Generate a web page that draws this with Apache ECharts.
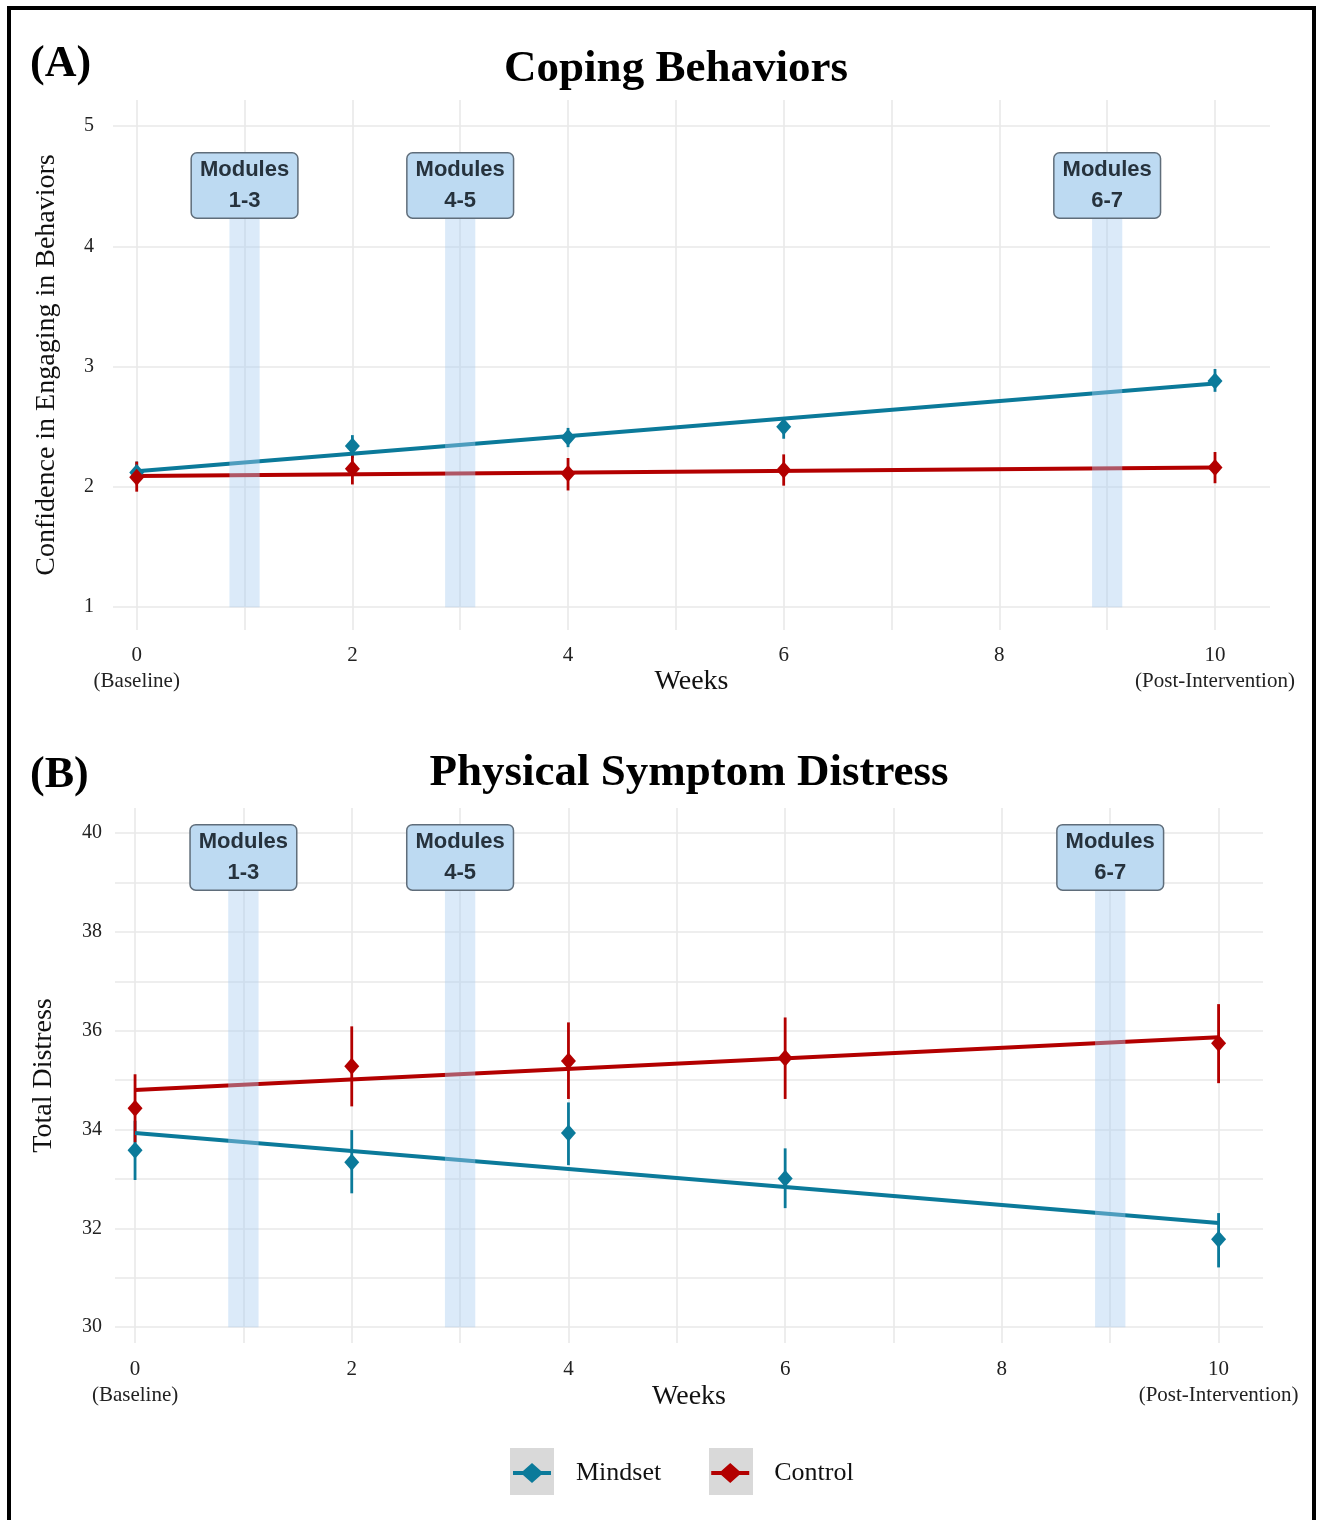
<!DOCTYPE html>
<html>
<head>
<meta charset="utf-8">
<script src="https://cdn.jsdelivr.net/npm/echarts@6/dist/echarts.min.js"></script>
<style>
  html, body { margin: 0; padding: 0; background: #ffffff; }
  #chart { width: 1317px; height: 1520px; }
</style>
</head>
<body>
<div id="chart"></div>
<script>
// weeks where the outcome was measured
const weeks = [0, 2, 4, 6, 10];
const fitWeeks = [0, 10];

// (A) Coping behaviors
const copingMindset = [2.12, 2.34, 2.41, 2.50, 2.88];
const copingMindsetLo = [2.05, 2.24, 2.33, 2.40, 2.79];
const copingMindsetHi = [2.21, 2.43, 2.49, 2.58, 2.98];
const copingControl = [2.08, 2.15, 2.11, 2.14, 2.16];
const copingControlLo = [1.96, 2.02, 1.97, 2.01, 2.03];
const copingControlHi = [2.21, 2.27, 2.24, 2.27, 2.29];
const copingMindsetFit = [2.13, 2.86];
const copingControlFit = [2.09, 2.16];

// (B) Physical symptom distress
const distressMindset = [33.58, 33.34, 33.93, 33.01, 31.78];
const distressMindsetLo = [32.98, 32.71, 33.28, 32.41, 31.21];
const distressMindsetHi = [34.18, 33.99, 34.55, 33.62, 32.31];
const distressControl = [34.43, 35.28, 35.39, 35.45, 35.75];
const distressControlLo = [33.74, 34.47, 34.62, 34.62, 34.94];
const distressControlHi = [35.12, 36.09, 36.17, 36.27, 36.54];
const distressMindsetFit = [33.93, 32.11];
const distressControlFit = [34.80, 35.87];

// module shading
const moduleWeeks = [1, 3, 9];
const moduleNames = ['1-3', '4-5', '6-7'];

// ticks / gridlines
const xTicks = [0, 2, 4, 6, 8, 10];
const xGrid = [0, 1, 2, 3, 4, 5, 6, 7, 8, 9, 10];
const copingTicks = [1, 2, 3, 4, 5];
const distressTicks = [30, 32, 34, 36, 38, 40];
const distressGrid = [30, 31, 32, 33, 34, 35, 36, 37, 38, 39, 40];

const BLUE = '#0b7a9a';
const RED = '#b30000';
const SERIF = "'Liberation Serif', 'Times New Roman', serif";
const SANS = "'Liberation Sans', Arial, sans-serif";
const GRID_COLOR = '#e9e9e9';
const BAND_COLOR = 'rgba(170, 205, 240, 0.42)';
const LEGEND_ICON = 'path://M0,8 L10,8 L19,0 L28,8 L38,8 L38,12 L28,12 L19,20 L10,12 L0,12 Z';

const chart = echarts.init(document.getElementById('chart'));

function xLabel(v) {
  if (v === 0) return '0\n(Baseline)';
  if (v === 10) return '10\n(Post-Intervention)';
  return String(v);
}

function gridLines(idx, xs, ys) {
  return {
    type: 'line',
    xAxisIndex: idx,
    yAxisIndex: idx,
    data: [],
    silent: true,
    z: 1,
    markLine: {
      z: 1,
      silent: true,
      symbol: ['none', 'none'],
      label: { show: false },
      lineStyle: { color: GRID_COLOR, width: 1.6, type: 'solid' },
      data: xs.map((v) => ({ xAxis: v })).concat(ys.map((v) => ({ yAxis: v }))),
    },
  };
}

function bands(idx, yLo, yHi) {
  return {
    type: 'line',
    xAxisIndex: idx,
    yAxisIndex: idx,
    data: [],
    silent: true,
    z: 4,
    markArea: {
      z: 4,
      silent: true,
      itemStyle: { color: BAND_COLOR },
      data: moduleWeeks.map((w) => [
        { xAxis: w - 0.14, yAxis: yLo },
        { xAxis: w + 0.14, yAxis: yHi },
      ]),
    },
  };
}

function moduleBoxes(idx, yPos) {
  return {
    type: 'scatter',
    xAxisIndex: idx,
    yAxisIndex: idx,
    silent: true,
    z: 6,
    symbolSize: 2,
    itemStyle: { color: 'transparent', opacity: 1 },
    data: moduleWeeks.map((w, i) => [w, yPos, moduleNames[i]]),
    label: {
      show: true,
      position: 'inside',
      opacity: 1,
      formatter: (p) => '{t|Modules}\n{t|' + p.data[2] + '}',
      backgroundColor: '#bddaf2',
      borderColor: '#5f6d7a',
      borderWidth: 1.5,
      borderRadius: 5,
      padding: [1, 8],
      rich: {
        t: {
          fontFamily: SANS,
          fontWeight: 'bold',
          fontSize: 22,
          lineHeight: 31,
          color: '#26323d',
          align: 'center',
        },
      },
    },
  };
}

function fitLine(idx, name, vals, color) {
  return {
    type: 'line',
    name: name + ' fit',
    xAxisIndex: idx,
    yAxisIndex: idx,
    z: 3,
    showSymbol: false,
    lineStyle: { color: color, width: 4 },
    data: fitWeeks.map((w, i) => [w, vals[i]]),
  };
}

function errorBars(idx, lo, hi, color) {
  return {
    type: 'custom',
    xAxisIndex: idx,
    yAxisIndex: idx,
    z: 3,
    silent: true,
    data: weeks.map((w, i) => [w, lo[i], hi[i]]),
    encode: { x: 0, y: [1, 2] },
    renderItem: (params, api) => {
      const a = api.coord([api.value(0), api.value(1)]);
      const b = api.coord([api.value(0), api.value(2)]);
      return {
        type: 'rect',
        shape: { x: a[0] - 1.4, y: b[1], width: 2.8, height: a[1] - b[1] },
        style: { fill: color, opacity: 1 },
      };
    },
  };
}

function points(idx, name, vals, color) {
  return {
    type: 'scatter',
    name: name,
    xAxisIndex: idx,
    yAxisIndex: idx,
    z: 3,
    symbol: 'diamond',
    symbolSize: [15, 17],
    itemStyle: { color: color, opacity: 1 },
    data: weeks.map((w, i) => [w, vals[i]]),
  };
}

const axisText = { fontFamily: SERIF, color: '#222' };

function xAxisFor(gi, min, max, margin, gap) {
  return {
    type: 'value',
    gridIndex: gi,
    min: min,
    max: max,
    axisLine: { show: false },
    axisTick: { show: false },
    splitLine: { show: false },
    axisLabel: Object.assign({}, axisText, {
      customValues: xTicks,
      formatter: xLabel,
      fontSize: 21,
      lineHeight: 26,
      margin: margin,
    }),
    name: 'Weeks',
    nameLocation: 'middle',
    nameGap: gap,
    nameMoveOverlap: false,
    nameTextStyle: { fontFamily: SERIF, fontSize: 28, color: '#111' },
  };
}

function yAxisFor(gi, min, max, ticks, name, gap, margin) {
  return {
    type: 'value',
    gridIndex: gi,
    min: min,
    max: max,
    axisLine: { show: false },
    axisTick: { show: false },
    splitLine: { show: false },
    axisLabel: Object.assign({}, axisText, {
      customValues: ticks,
      fontSize: 20,
      margin: margin,
    }),
    name: name,
    nameLocation: 'middle',
    nameGap: gap,
    nameMoveOverlap: false,
    nameTextStyle: { fontFamily: SERIF, fontSize: 28, color: '#111' },
  };
}

const option = {
  animation: false,
  backgroundColor: '#ffffff',
  title: [
    { text: '(A)', left: 25, top: 38, textStyle: { fontFamily: SERIF, fontWeight: 'bold', fontSize: 44, color: '#000' } },
    { text: 'Coping Behaviors', left: 671, top: 42, textAlign: 'center', textStyle: { fontFamily: SERIF, fontWeight: 'bold', fontSize: 45, color: '#000' } },
    { text: '(B)', left: 25, top: 749, textStyle: { fontFamily: SERIF, fontWeight: 'bold', fontSize: 44, color: '#000' } },
    { text: 'Physical Symptom Distress', left: 684, top: 746, textAlign: 'center', textStyle: { fontFamily: SERIF, fontWeight: 'bold', fontSize: 45, color: '#000' } },
  ],
  grid: [
    { left: 113, top: 100, width: 1157, height: 530 },
    { left: 115, top: 808, width: 1148, height: 535 },
  ],
  xAxis: [
    xAxisFor(0, -0.22, 10.51, 12, 38),
    xAxisFor(1, -0.185, 10.41, 13, 40),
  ],
  yAxis: [
    yAxisFor(0, 0.81, 5.216, copingTicks, 'Confidence in Engaging in Behaviors', 52, 19),
    yAxisFor(1, 29.68, 40.51, distressTicks, 'Total Distress', 57, 13),
  ],
  legend: {
    left: 513,
    top: 1460,
    padding: 0,
    itemWidth: 38,
    itemHeight: 20,
    itemGap: 50,
    selectedMode: false,
    data: [
      { name: 'Mindset', icon: LEGEND_ICON },
      { name: 'Control', icon: LEGEND_ICON },
    ],
    formatter: (name) => '{g| }' + name,
    textStyle: {
      fontFamily: SERIF,
      fontSize: 26,
      color: '#111',
      rich: { g: { width: 20 } },
    },
  },
  graphic: [
    { type: 'rect', z: -1, shape: { x: 510, y: 1448, width: 44, height: 47 }, style: { fill: '#d9d9d9' } },
    { type: 'rect', z: -1, shape: { x: 709, y: 1448, width: 44, height: 47 }, style: { fill: '#d9d9d9' } },
    { type: 'rect', z: 10, shape: { x: 9, y: 8, width: 1305, height: 1540 }, style: { fill: 'none', stroke: '#000', lineWidth: 4 } },
  ],
  series: [
    gridLines(0, xGrid, copingTicks),
    gridLines(1, xGrid, distressGrid),

    fitLine(0, 'Mindset', copingMindsetFit, BLUE),
    fitLine(0, 'Control', copingControlFit, RED),
    errorBars(0, copingMindsetLo, copingMindsetHi, BLUE),
    errorBars(0, copingControlLo, copingControlHi, RED),
    points(0, 'Mindset', copingMindset, BLUE),
    points(0, 'Control', copingControl, RED),

    fitLine(1, 'Mindset', distressMindsetFit, BLUE),
    fitLine(1, 'Control', distressControlFit, RED),
    errorBars(1, distressMindsetLo, distressMindsetHi, BLUE),
    errorBars(1, distressControlLo, distressControlHi, RED),
    points(1, 'Mindset', distressMindset, BLUE),
    points(1, 'Control', distressControl, RED),

    bands(0, 1, 4.5),
    bands(1, 30, 39.5),
    moduleBoxes(0, 4.505),
    moduleBoxes(1, 39.51),
  ],
};

chart.setOption(option);
</script>
</body>
</html>
